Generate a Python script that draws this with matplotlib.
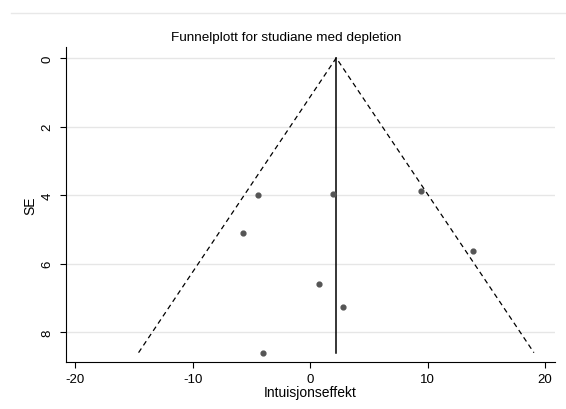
import numpy as np
import matplotlib.pyplot as plt
from matplotlib.lines import Line2D

plt.rcParams['font.family'] = ['Liberation Sans', 'DejaVu Sans']
plt.rcParams['axes.unicode_minus'] = False

# studiar: effekt og standardfeil
effekt = [-4.44, 1.94, 9.47, -5.74, 13.88, 0.74, 2.76, -4.01]
se = [3.99, 3.96, 3.88, 5.10, 5.63, 6.58, 7.25, 8.59]
xticks = [-20, -10, 0, 10, 20]
yticks = [0, 2, 4, 6, 8]

effekt_a = np.array(effekt)
se_a = np.array(se)
w = 1 / se_a ** 2
pooled = np.sum(w * effekt_a) / np.sum(w)
se_max = se_a.max()

fig = plt.figure(figsize=(5.66, 4.10), dpi=100)
ax = fig.add_axes([0.1166, 0.114, 0.864, 0.769])

# ramme-linje øvst som i Stata
fig.add_artist(Line2D([0.019, 1.0], [0.966, 0.966], transform=fig.transFigure,
                      color='#e8e8e8', lw=1))

for t in yticks:
    ax.axhline(t, color='#e6e6e6', lw=1, zorder=0)

ax.plot([pooled - 1.96 * se_max, pooled, pooled + 1.96 * se_max], [se_max, 0, se_max],
        ls=(0, (4, 3)), color='black', lw=0.9)
ax.plot([pooled, pooled], [0, se_max], color='black', lw=1.1)
ax.scatter(effekt, se, s=12, color='#555555', zorder=3)

ax.set_xlim(-20.8, 20.85)
ax.set_ylim(8.87, -0.32)
ax.set_xticks(xticks)
ax.set_yticks(yticks)
ax.tick_params(axis='y', labelrotation=90, length=4, labelsize=9.5, pad=5)
ax.tick_params(axis='x', length=4, labelsize=9.5, pad=4)
for lab in ax.get_yticklabels():
    lab.set_va('center')
for side in ['top', 'right']:
    ax.spines[side].set_visible(False)
ax.set_xlabel('Intuisjonseffekt', fontsize=10, labelpad=0)
ax.set_ylabel('SE', fontsize=10, labelpad=3)
fig.text(0.505, 0.907, 'Funnelplott for studiane med depletion', ha='center', va='center',
         fontsize=9.7)

fig.savefig('out.png', dpi=100)
